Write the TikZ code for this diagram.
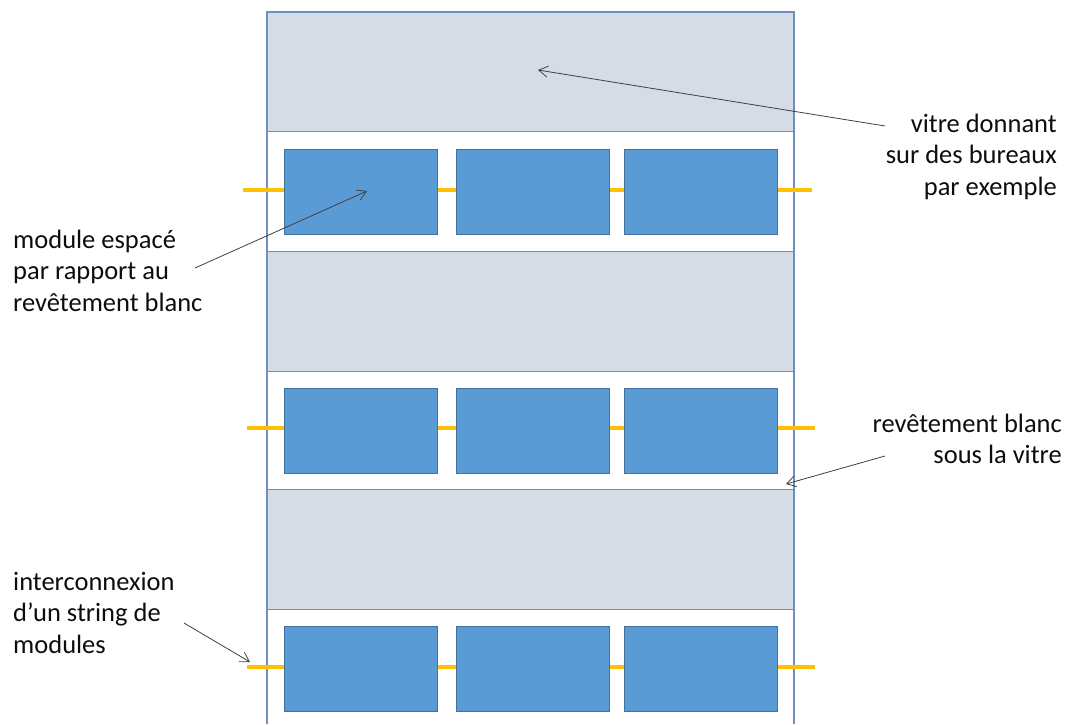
\documentclass[tikz,border=0pt]{standalone}
\usepackage{fontspec}
\setmainfont{Carlito}
\usetikzlibrary{arrows.meta}
\definecolor{bandgrey}{HTML}{D6DCE5}
\definecolor{bandline}{HTML}{6E8FBF}
\definecolor{modfill}{HTML}{5B9BD5}
\definecolor{modline}{HTML}{41719C}
\definecolor{wire}{HTML}{FFC000}
\definecolor{pointer}{HTML}{404040}
\definecolor{txt}{HTML}{0D0D0D}
\tikzset{
  band/.style={draw=bandline, line width=1.2pt, fill=bandgrey, minimum width=527pt, minimum height=119.5pt, inner sep=0pt, outer sep=0pt},
  modbox/.style={draw=modline, line width=1pt, fill=modfill, minimum width=153pt, minimum height=85pt, inner sep=0pt},
  wireline/.style={wire, line width=4pt},
  label/.style={font=\fontsize{26.5}{31.5}\selectfont, text=txt, inner sep=0pt},
  callout/.style={pointer, line width=0.8pt, -{Straight Barb[length=9pt,width=11pt,line width=0.8pt]}},
}
\begin{document}
\begin{tikzpicture}[x=1pt,y=-1pt]
\useasboundingbox (0,0) rectangle (1067,724);
% column outline
\coordinate (cbl) at (267,724);
\coordinate (ctl) at (267,12);
\coordinate (ctr) at (794,12);
\coordinate (cbr) at (794,724);
\draw[bandline, line width=1.2pt] (cbl) -- (ctl) -- (ctr) -- (cbr);
% grey bands
\node[band] (g1) at (530.5,72) {};
\node[band] (g2) at (530.5,311.5) {};
\node[band] (g3) at (530.5,549.5) {};
% wires
\coordinate (w1a) at (243,190); \coordinate (w1b) at (812,190);
\coordinate (w2a) at (247,428); \coordinate (w2b) at (815,428);
\coordinate (w3a) at (247,667); \coordinate (w3b) at (815,667);
\draw[wireline] (w1a) -- (w1b);
\draw[wireline] (w2a) -- (w2b);
\draw[wireline] (w3a) -- (w3b);
% modules
\node[modbox] (m11) at (360.5,191.5) {};
\node[modbox] (m12) at (532.5,191.5) {};
\node[modbox] (m13) at (701,191.5) {};
\node[modbox] (m21) at (360.5,430.5) {};
\node[modbox] (m22) at (532.5,430.5) {};
\node[modbox] (m23) at (701,430.5) {};
\node[modbox] (m31) at (360.5,669) {};
\node[modbox] (m32) at (532.5,669) {};
\node[modbox] (m33) at (701,669) {};
% labels (base anchor = baseline of last line)
\node[label, align=right, anchor=base east] (tvitre) at (1057,195) {vitre donnant\\sur des bureaux\\par exemple};
\node[label, align=left, anchor=base west] (tmod) at (13,311) {module espacé\\par rapport au\\revêtement blanc};
\node[label, align=right, anchor=base east] (trev) at (1062,463.5) {revêtement blanc\\sous la vitre};
\node[label, align=left, anchor=base west] (tint) at (13,653) {interconnexion\\d’un string de\\modules};
% callouts
\coordinate (a1s) at (885,126); \coordinate (a1e) at (538,70);
\coordinate (a2s) at (195,268); \coordinate (a2e) at (367,191);
\coordinate (a3s) at (885,456); \coordinate (a3e) at (786,484);
\coordinate (a4s) at (184,623); \coordinate (a4e) at (250,662);
\draw[callout] (a1s) -- (a1e);
\draw[callout] (a2s) -- (a2e);
\draw[callout] (a3s) -- (a3e);
\draw[callout] (a4s) -- (a4e);
\end{tikzpicture}
\end{document}
